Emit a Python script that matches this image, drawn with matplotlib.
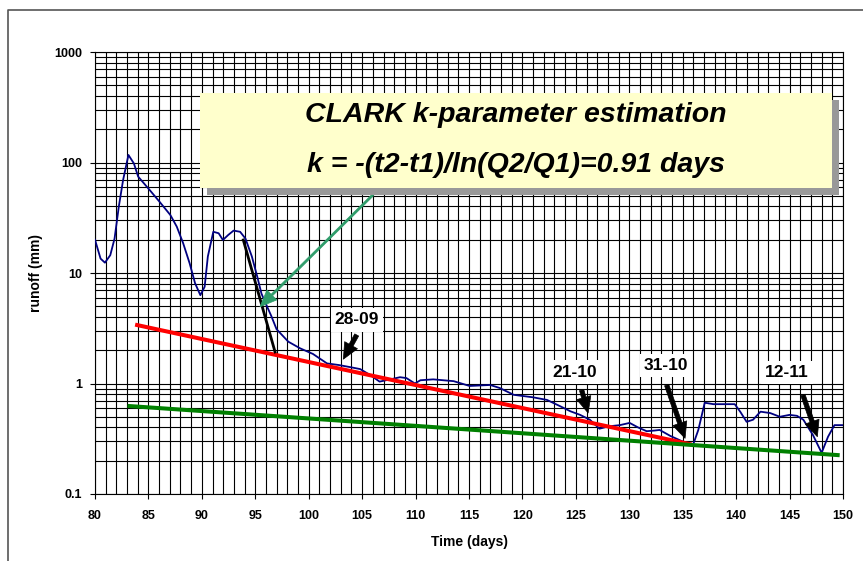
import numpy as np
import matplotlib
matplotlib.use("Agg")
import matplotlib.pyplot as plt
from matplotlib.patches import Rectangle
from matplotlib.lines import Line2D
from matplotlib.ticker import MultipleLocator, LogLocator, NullFormatter, FuncFormatter

plt.rcParams['font.family'] = ['Liberation Sans', 'DejaVu Sans']

# observed runoff (mm) vs time (days)
days = [80.0, 80.52, 80.93, 81.43, 81.83, 82.23, 82.63, 83.13, 83.64, 84.04, 85.14,
        86.05, 87.05, 87.65, 88.25, 88.86, 89.36, 89.86, 90.26, 90.56, 91.07, 91.57,
        91.97, 92.47, 92.97, 93.58, 94.08, 94.68, 95.18, 95.58, 96.09, 96.49, 96.99,
        98.09, 99.2, 100.4, 101.71, 102.81, 103.82, 104.82, 105.83, 106.63, 107.63,
        108.54, 109.14, 109.94, 110.45, 111.65, 113.56, 115.06, 116.98, 117.88,
        119.18, 120.99, 122.3, 123.5, 124.5, 125.4, 126.31, 127.21, 128.12, 129.12,
        130.03, 130.83, 131.63, 132.34, 132.84, 133.85, 134.95, 135.96, 136.46,
        137.06, 137.87, 138.97, 139.87, 140.38, 140.98, 141.58, 142.28, 143.19,
        144.09, 144.99, 145.69, 146.29, 147.2, 148.0, 148.6, 149.2, 150.0]
runoff = [20.0, 13.5, 12.4, 14.5, 20.5, 40.0, 69.5, 117.0, 98.0, 74.5, 56.0,
          44.0, 33.5, 26.3, 18.6, 12.2, 8.1, 6.3, 7.5, 14.1, 23.6, 22.9,
          19.9, 22.1, 24.2, 23.6, 20.5, 14.1, 9.3, 6.5, 5.0, 4.1, 3.1,
          2.39, 2.08, 1.85, 1.52, 1.47, 1.41, 1.35, 1.18, 1.04, 1.09,
          1.14, 1.12, 1.0, 1.07, 1.09, 1.05, 0.95, 0.97, 0.91,
          0.79, 0.75, 0.71, 0.625, 0.56, 0.52, 0.47, 0.39, 0.41, 0.42,
          0.44, 0.40, 0.37, 0.375, 0.38, 0.335, 0.30, 0.277, 0.38,
          0.67, 0.65, 0.65, 0.65, 0.556, 0.45, 0.47, 0.556, 0.54,
          0.50, 0.52, 0.51, 0.47, 0.34, 0.236, 0.33, 0.42, 0.42]

# fitted recession lines
red_days = [83.94, 135.65]
red_q = [3.38, 0.283]
green_days = [83.23, 149.5]
green_q = [0.625, 0.225]
steep_days = [93.88, 96.85]
steep_q = [19.9, 1.93]

# date labels: text position, arrow tail, arrow head
date_labels = ['28-09', '21-10', '31-10', '12-11']
label_pos = [(104.52, 3.76), (124.9, 1.27), (133.44, 1.45), (144.77, 1.25)]
arrow_tail = [(104.49, 2.75), (125.54, 0.873), (133.5, 0.968), (146.25, 0.787)]
arrow_head = [(103.24, 1.66), (126.15, 0.541), (135.22, 0.319), (147.6, 0.330)]

title_lines = ['CLARK k-parameter estimation', 'k = -(t2-t1)/ln(Q2/Q1)=0.91 days']

fig = plt.figure(figsize=(8.63, 5.61), dpi=100)
ax = fig.add_axes([95 / 863, 67 / 561, 748 / 863, 442 / 561])

ax.set_yscale('log')
ax.set_xlim(80, 150)
ax.set_ylim(0.1, 1000)

ax.xaxis.set_major_locator(MultipleLocator(5))
ax.xaxis.set_minor_locator(MultipleLocator(1))
ax.yaxis.set_major_locator(LogLocator(base=10))
ax.yaxis.set_minor_locator(LogLocator(base=10, subs=np.arange(2, 10)))
ax.yaxis.set_minor_formatter(NullFormatter())
ax.yaxis.set_major_formatter(FuncFormatter(lambda v, p: ('%g' % v)))

ax.grid(True, which='both', color='black', lw=0.8)
ax.set_axisbelow(True)
ax.tick_params(which='major', direction='out', length=3.6, width=0.8, labelsize=9)
ax.tick_params(axis='x', which='major', pad=8)
ax.tick_params(axis='y', which='major', pad=5.5)
ax.tick_params(which='minor', length=0)
for lab in ax.get_xticklabels() + ax.get_yticklabels():
    lab.set_fontweight('bold')
for s in ax.spines.values():
    s.set_color('black')
    s.set_linewidth(0.8)

fig.text(469 / 863, 1 - 542 / 561, 'Time (days)', ha='center', va='center',
         fontsize=10, fontweight='bold')
fig.text(36 / 863, 1 - 273 / 561, 'runoff (mm)', ha='center', va='center',
         rotation=90, fontsize=10, fontweight='bold')

ax.plot(days, runoff, color='#000080', lw=1.3, zorder=3)
ax.plot(red_days, red_q, color='#ff0000', lw=2.9, zorder=4)
ax.plot(green_days, green_q, color='#008000', lw=2.9, zorder=4)
ax.plot(steep_days, steep_q, color='black', lw=2.0, zorder=4)

for lab, pos, tail, head in zip(date_labels, label_pos, arrow_tail, arrow_head):
    ax.text(pos[0], pos[1], lab, ha='center', va='center', fontsize=12.5,
            fontweight='bold', zorder=6,
            bbox=dict(facecolor='white', edgecolor='none', pad=3))
    ax.annotate('', xy=head, xytext=tail, zorder=6,
                arrowprops=dict(width=3.2, headwidth=10.5, headlength=11.5,
                                facecolor='black', edgecolor='black', lw=0.5,
                                shrink=0))

# green pointer from the box
ax.annotate('', xy=(95.44, 4.95), xytext=(106.0, 50.8), zorder=5,
            arrowprops=dict(width=1.5, headwidth=10, headlength=12,
                            facecolor='#2e9c6a', edgecolor='#2e9c6a', lw=0.5,
                            shrink=0))

# title box with shadow
bx0, bx1, by0, by1 = 0.1404, 0.9853, 0.692, 0.907
ax.add_patch(Rectangle((bx0 + 0.0094, by0 - 0.0158), bx1 - bx0, by1 - by0,
                       transform=ax.transAxes, facecolor='#999999',
                       edgecolor='none', zorder=7, clip_on=False))
ax.add_patch(Rectangle((bx0, by0), bx1 - bx0, by1 - by0, transform=ax.transAxes,
                       facecolor='#ffffcc', edgecolor='none', zorder=8,
                       clip_on=False))
ax.text(0.5628, 0.857, title_lines[0], transform=ax.transAxes, ha='center',
        va='center', fontsize=20.5, fontweight='bold', style='italic', zorder=9)
ax.text(0.5628, 0.744, title_lines[1], transform=ax.transAxes, ha='center',
        va='center', fontsize=20.5, fontweight='bold', style='italic', zorder=9)

# outer chart frame
fx = 8 / 863
fy = 1 - 10 / 561
fig.add_artist(Line2D([fx, fx, 1.0], [0.0, fy, fy], transform=fig.transFigure,
                      color='#555555', lw=1.2))

fig.savefig('out.png', dpi=100)
